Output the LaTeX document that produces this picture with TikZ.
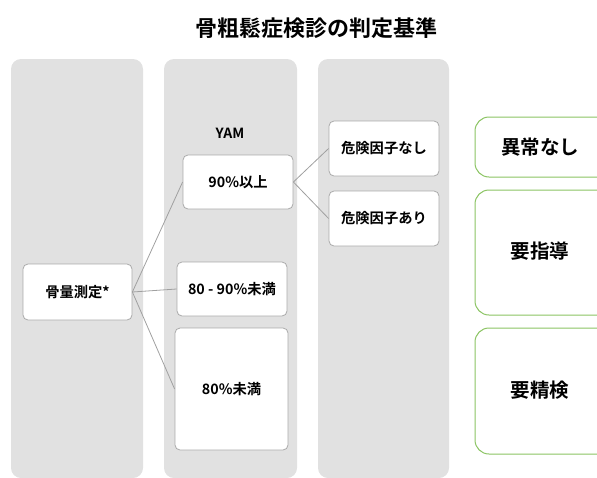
\documentclass[tikz,border=0pt]{standalone}
\usepackage{fontspec}
\setmainfont{Noto Sans CJK JP}
\newfontfamily\jpb{Noto Sans CJK JP Bold}
\definecolor{colfill}{HTML}{E1E1E1}
\definecolor{boxline}{HTML}{AAAAAA}
\definecolor{linkc}{HTML}{A0A0A0}
\definecolor{greenline}{HTML}{8BC463}
\begin{document}
\begin{tikzpicture}[x=1pt,y=-1pt,
  column/.style={fill=colfill,rounded corners=10pt,draw=none},
  wbox/.style={draw=boxline,fill=white,rounded corners=5pt,line width=0.8pt,font=\jpb\fontsize{14.3}{16}\selectfont,inner sep=0pt,align=center},
  gbox/.style={draw=greenline,fill=white,rounded corners=14pt,line width=1pt},
  gtext/.style={font=\jpb\fontsize{19.5}{22}\selectfont},
  link/.style={draw=linkc,line width=0.8pt}]
\useasboundingbox (0,0) rectangle (597,477);
\clip (0,0) rectangle (597,477);
% title
\node[font=\jpb\fontsize{22}{26}\selectfont] (title) at (316,28) {骨粗鬆症検診の判定基準};
% columns
\path[column] (11,59) rectangle (143,478);
\path[column] (164,59) rectangle (297,478);
\path[column] (318,59) rectangle (449,478);
\node[font=\jpb\fontsize{14}{16}\selectfont] (yam) at (230,133) {YAM};
% nodes
\node[wbox,minimum width=109pt,minimum height=56pt] (bone) at (77.5,292) {骨量測定*};
\node[wbox,minimum width=110pt,minimum height=54pt] (n90) at (238,182) {90\%以上};
\node[wbox,minimum width=110pt,minimum height=54pt] (n8090) at (232,289) {80 - 90\%未満};
\node[wbox,minimum width=113pt,minimum height=122pt] (n80) at (231.5,389) {80\%未満};
\node[wbox,minimum width=110pt,minimum height=55pt] (nr1) at (384,148.5) {危険因子なし};
\node[wbox,minimum width=110pt,minimum height=55pt] (nr2) at (384,218.5) {危険因子あり};
% result boxes
\draw[gbox] (475,117) rectangle (612,177);
\node[gtext] (r1) at (540,147) {異常なし};
\draw[gbox] (475,190) rectangle (612,315);
\node[gtext] (r2) at (540,251) {要指導};
\draw[gbox] (475,328) rectangle (612,454);
\node[gtext] (r3) at (540,390) {要精検};
% links
\draw[link] (bone.east) -- (n90.west);
\draw[link] (bone.east) -- (n8090.west);
\draw[link] (bone.east) -- (n80.west);
\draw[link] (n90.east) -- (nr1.west);
\draw[link] (n90.east) -- (nr2.west);
\end{tikzpicture}
\end{document}
